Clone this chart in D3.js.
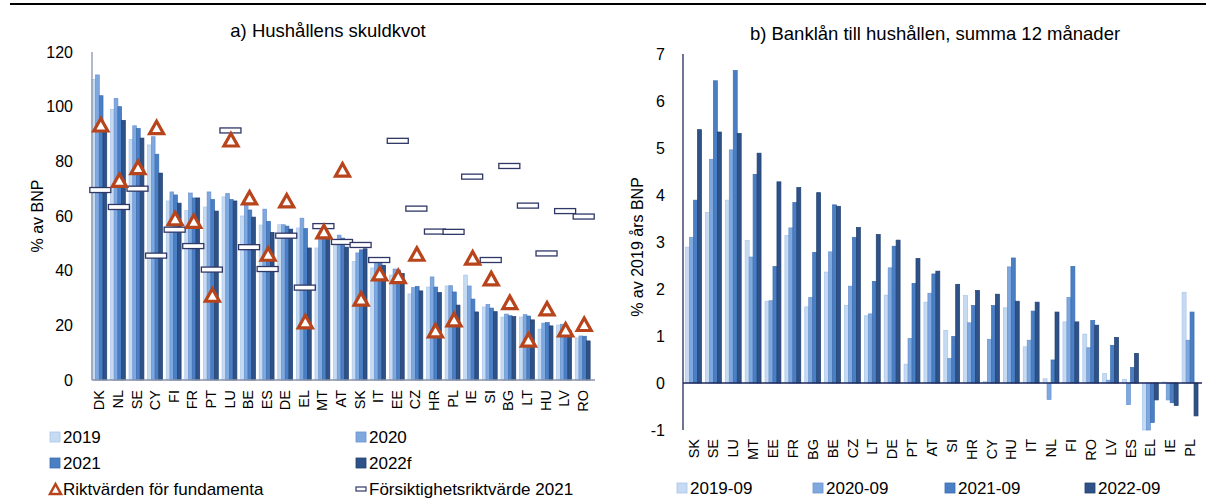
<!DOCTYPE html>
<html>
<head>
<meta charset="utf-8">
<script src="https://cdn.jsdelivr.net/npm/d3@7"></script>
<style>
  body { margin: 0; background: #fff; }
  text { font-family: "Liberation Sans", Arial, sans-serif; fill: #000; }
</style>
</head>
<body>
<div id="chart"></div>
<script>
// ---- data: a) Hushållens skuldkvot (% av BNP)
var debtCats = ['DK','NL','SE','CY','FI','FR','PT','LU','BE','ES','DE','EL','MT','AT','SK','IT','EE','CZ','HR','PL','IE','SI','BG','LT','HU','LV','RO'];
var debt2019 = [110, 99, 88, 86, 65.5, 62, 63.3, 67, 60, 56.7, 56.8, 55.6, 48.3, 50.2, 43.3, 41, 38.4, 31.5, 34, 34.4, 38.4, 26.7, 23, 23, 18.6, 20.1, 15.4];
var debt2020 = [111.6, 103, 93, 89, 68.8, 68.4, 68.8, 68.2, 63.8, 62.5, 56.8, 59.2, 52.5, 53, 46.5, 44.6, 40.6, 33.8, 37.7, 34.5, 34.4, 27.6, 24.1, 23.9, 20.8, 20.4, 16.1];
var debt2021 = [104, 100, 92, 82.6, 67.7, 66.6, 66, 66, 62.2, 58, 56.3, 55.4, 53.5, 51.9, 47.6, 43.3, 40.2, 34.2, 34, 32.2, 29.6, 26.3, 23.5, 23.4, 21, 19.5, 16];
var debt2022 = [91, 95, 88.5, 75.7, 64.7, 66.6, 61.8, 65.5, 59.6, 54, 55.2, 48.3, 52, 48.6, 48, 42, 39, 32.6, 32, 27.4, 24.9, 25, 23.2, 22, 19.8, 18, 14.3];
var riktFundamenta = [93.3, 73, 77.7, 92.3, 59, 58, 31, 87.8, 66.6, 46, 65.5, 21.3, 54.2, 76.8, 29.6, 38.8, 37.8, 46, 18, 22, 44.6, 37, 28.3, 14.6, 26, 18.3, 20.3];
var forsiktighet2021 = [69.5, 63.3, 70, 45.5, 55, 49, 40.4, 91.3, 48.6, 40.6, 52.8, 33.8, 56.3, 50.5, 49.4, 43.9, 87.5, 62.7, 54.3, 54.2, 74.4, 43.9, 78.3, 63.8, 46.3, 61.8, 59.8];
var debtSeries = ['2019', '2020', '2021', '2022f'];
var debtTicks = [0, 20, 40, 60, 80, 100, 120];

// ---- data: b) Banklån till hushållen, summa 12 månader (% av 2019 års BNP)
var loanCats = ['SK','SE','LU','MT','EE','FR','BG','BE','CZ','LT','DE','PT','AT','SI','HR','CY','HU','IT','NL','FI','RO','LV','ES','EL','IE','PL'];
var loan2019 = [2.89, 3.63, 3.89, 3.03, 1.74, 3.14, 1.62, 2.36, 1.65, 1.43, 1.87, 0.40, 1.72, 1.12, 1.86, 0.03, 1.60, 0.77, 0.09, 1.30, 1.04, 0.20, 0.08, -1.08, 0.02, 1.93];
var loan2020 = [3.10, 4.76, 4.96, 2.68, 1.75, 3.30, 1.82, 2.79, 2.06, 1.47, 2.45, 0.95, 1.91, 0.52, 1.28, 0.93, 2.47, 0.91, -0.35, 1.82, 0.75, 0.06, -0.46, -1.05, -0.36, 0.91];
var loan2021 = [3.89, 6.43, 6.65, 4.44, 2.48, 3.84, 2.78, 3.79, 3.10, 2.16, 2.91, 2.12, 2.32, 0.99, 1.65, 1.65, 2.66, 1.53, 0.49, 2.48, 1.33, 0.80, 0.33, -0.84, -0.42, 1.51];
var loan2022 = [5.39, 5.34, 5.31, 4.89, 4.28, 4.16, 4.05, 3.76, 3.31, 3.16, 3.04, 2.65, 2.38, 2.10, 1.97, 1.89, 1.74, 1.72, 1.51, 1.30, 1.23, 0.97, 0.63, -0.36, -0.48, -0.70];
var loanSeries = ['2019-09', '2020-09', '2021-09', '2022-09'];
var loanTicks = [-1, 0, 1, 2, 3, 4, 5, 6, 7];

var fills = ['#c6dbf2', '#7fa8de', '#4a7fc5', '#2e5288'];
var strokes = ['#a9c6ea', '#6893d0', '#3b6db0', '#213f6e'];

var svg = d3.select('#chart').append('svg')
    .attr('width', 1206)
    .attr('height', 499);

svg.append('rect').attr('width', 1206).attr('height', 499).attr('fill', '#fff');

// top rule
svg.append('line')
    .attr('x1', 10).attr('x2', 1206).attr('y1', 4).attr('y2', 4)
    .attr('stroke', '#000').attr('stroke-width', 2);

function drawBars(g, cats, seriesVals, x, y) {
    var xs = d3.scaleBand().domain(d3.range(seriesVals.length)).range([0, x.bandwidth()]);
    seriesVals.forEach(function(vals, s) {
        g.selectAll('.bar' + s).data(vals).enter().append('rect')
            .attr('x', function(d, i) { return x(cats[i]) + xs(s); })
            .attr('width', xs.bandwidth())
            .attr('y', function(d) { return y(Math.max(0, d)); })
            .attr('height', function(d) { return Math.abs(y(d) - y(0)); })
            .attr('fill', fills[s])
            .attr('stroke', strokes[s])
            .attr('stroke-width', 0.7);
    });
}

// ================= a) =================
var xa = d3.scaleBand().domain(debtCats).range([90, 592]).paddingInner(0.2).paddingOuter(0.1);
var ya = d3.scaleLinear().domain([0, 120]).range([380, 52]);
var ga = svg.append('g');

drawBars(ga, debtCats, [debt2019, debt2020, debt2021, debt2022], xa, ya);

// axes
ga.append('line').attr('x1', 92).attr('x2', 92).attr('y1', ya(120)).attr('y2', ya(0))
    .attr('stroke', '#8a93aa').attr('stroke-width', 1.3);
ga.append('line').attr('x1', 92).attr('x2', 595).attr('y1', ya(0)).attr('y2', ya(0))
    .attr('stroke', '#8a93aa').attr('stroke-width', 1.3);

ga.selectAll('.ytick').data(debtTicks).enter().append('text')
    .attr('x', 73).attr('y', function(d) { return ya(d); })
    .attr('dy', '0.35em').attr('text-anchor', 'end')
    .style('font-size', '16px')
    .text(function(d) { return d; });

ga.selectAll('.xlab').data(debtCats).enter().append('text')
    .attr('transform', function(d) { return 'translate(' + (xa(d) + xa.bandwidth() / 2) + ',390) rotate(-90)'; })
    .attr('dy', '0.35em').attr('text-anchor', 'end')
    .style('font-size', '14.5px')
    .text(function(d) { return d; });

ga.append('text')
    .attr('transform', 'translate(37,216) rotate(-90)')
    .attr('dy', '0.35em').attr('text-anchor', 'middle')
    .style('font-size', '16px')
    .text('% av BNP');

ga.append('text')
    .attr('x', 328).attr('y', 37).attr('text-anchor', 'middle')
    .style('font-size', '18.5px')
    .text('a) Hushållens skuldkvot');

// markers
function triPath(cx, cy) {
    return 'M' + cx + ',' + (cy - 6.5) + 'L' + (cx + 7) + ',' + (cy + 6) + 'L' + (cx - 7) + ',' + (cy + 6) + 'Z';
}
ga.selectAll('.prud').data(forsiktighet2021).enter().append('rect')
    .attr('x', function(d, i) { return xa(debtCats[i]) + xa.bandwidth() / 2 - 9.5; })
    .attr('y', function(d) { return ya(d) - 2.5; })
    .attr('width', 21).attr('height', 5)
    .attr('fill', '#fff').attr('stroke', '#2f3766').attr('stroke-width', 1.3);

ga.selectAll('.tri').data(riktFundamenta).enter().append('path')
    .attr('d', function(d, i) { return triPath(xa(debtCats[i]) + xa.bandwidth() / 2 + 1.5, ya(d)); })
    .attr('fill', '#fff').attr('stroke', '#b8441c').attr('stroke-width', 3.2)
    .attr('stroke-linejoin', 'miter');

// legend a)
var legA = [
    { type: 'sq', s: 0, label: debtSeries[0], x: 50, y: 437 },
    { type: 'sq', s: 1, label: debtSeries[1], x: 356, y: 437 },
    { type: 'sq', s: 2, label: debtSeries[2], x: 50, y: 463 },
    { type: 'sq', s: 3, label: debtSeries[3], x: 356, y: 463 },
    { type: 'tri', label: 'Riktvärden för fundamenta', x: 50, y: 489 },
    { type: 'prud', label: 'Försiktighetsriktvärde 2021', x: 356, y: 489 }
];
legA.forEach(function(l) {
    if (l.type === 'sq') {
        svg.append('rect').attr('x', l.x).attr('y', l.y - 5).attr('width', 10).attr('height', 10)
            .attr('fill', fills[l.s]).attr('stroke', strokes[l.s]).attr('stroke-width', 0.8);
    } else if (l.type === 'tri') {
        svg.append('path').attr('d', 'M' + (l.x + 5.5) + ',' + (l.y - 5) + 'L' + (l.x + 11) + ',' + (l.y + 5) + 'L' + l.x + ',' + (l.y + 5) + 'Z')
            .attr('fill', '#fff').attr('stroke', '#b8441c').attr('stroke-width', 2.5);
    } else {
        svg.append('rect').attr('x', l.x).attr('y', l.y - 2).attr('width', 10).attr('height', 4)
            .attr('fill', '#fff').attr('stroke', '#2f3766').attr('stroke-width', 1.2);
    }
    svg.append('text').attr('x', l.x + 13).attr('y', l.y).attr('dy', '0.35em')
        .style('font-size', '17px').text(l.label);
});

// ================= b) =================
var xb = d3.scaleBand().domain(loanCats).range([683.6, 1200]).paddingInner(0.2).paddingOuter(0.1);
var yb = d3.scaleLinear().domain([-1, 7]).range([430, 54]).clamp(true);
var gb = svg.append('g');

drawBars(gb, loanCats, [loan2019, loan2020, loan2021, loan2022], xb, yb);

gb.append('line').attr('x1', 683).attr('x2', 683).attr('y1', yb(7)).attr('y2', yb(-1))
    .attr('stroke', '#1f2a5c').attr('stroke-width', 1.3);
gb.append('line').attr('x1', 683).attr('x2', 1202).attr('y1', yb(0)).attr('y2', yb(0))
    .attr('stroke', '#1f2a5c').attr('stroke-width', 1.3);

gb.selectAll('.ytick').data(loanTicks).enter().append('text')
    .attr('x', 665).attr('y', function(d) { return yb(d); })
    .attr('dy', '0.35em').attr('text-anchor', 'end')
    .style('font-size', '16px')
    .text(function(d) { return d; });

gb.selectAll('.xlab').data(loanCats).enter().append('text')
    .attr('transform', function(d) { return 'translate(' + (xb(d) + xb.bandwidth() / 2) + ',439) rotate(-90)'; })
    .attr('dy', '0.35em').attr('text-anchor', 'end')
    .style('font-size', '14.5px')
    .text(function(d) { return d; });

gb.append('text')
    .attr('transform', 'translate(637,247) rotate(-90)')
    .attr('dy', '0.35em').attr('text-anchor', 'middle')
    .style('font-size', '16px')
    .text('% av 2019 års BNP');

gb.append('text')
    .attr('x', 935).attr('y', 40).attr('text-anchor', 'middle')
    .style('font-size', '18.5px')
    .text('b) Banklån till hushållen, summa 12 månader');

// legend b)
var legBx = [677, 813, 945, 1085];
loanSeries.forEach(function(name, s) {
    svg.append('rect').attr('x', legBx[s]).attr('y', 483).attr('width', 10).attr('height', 10)
        .attr('fill', fills[s]).attr('stroke', strokes[s]).attr('stroke-width', 0.8);
    svg.append('text').attr('x', legBx[s] + 13).attr('y', 488).attr('dy', '0.35em')
        .style('font-size', '17px').text(name);
});
</script>
</body>
</html>
